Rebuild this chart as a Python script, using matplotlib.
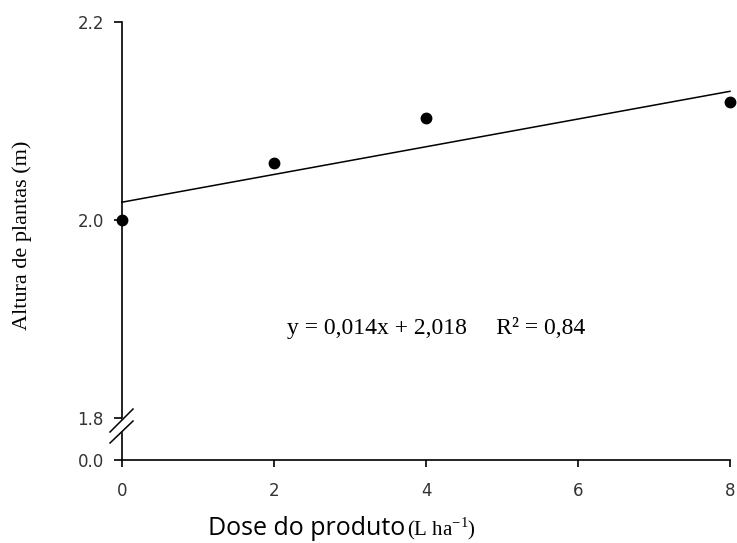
import numpy as np
import matplotlib
matplotlib.use("Agg")
import matplotlib.pyplot as plt
from matplotlib.ticker import FixedLocator, FormatStrFormatter, NullLocator

# data
dose = [0, 2, 4, 8]
altura = [2.000, 2.058, 2.103, 2.119]
slope, intercept = 0.014, 2.018
x_ticks = [0, 2, 4, 6, 8]
y_ticks = [0.0, 1.8, 2.0, 2.2]

plt.rcParams['mathtext.fontset'] = 'custom'
plt.rcParams['mathtext.rm'] = 'Liberation Serif'

fig = plt.figure(figsize=(7.37, 5.43), dpi=100)
ax = fig.add_axes([122 / 737, 83 / 543, 608 / 737, 438 / 543])

# broken y axis: squeeze 0 - 1.8 into a short stretch
brk = 1.8
k = 0.0424 / 1.8


def fwd(y):
    y = np.asarray(y, dtype=float)
    return np.where(y >= brk, y, brk - (brk - y) * k)


def inv(z):
    z = np.asarray(z, dtype=float)
    return np.where(z >= brk, z, brk - (brk - z) / k)


ax.set_yscale('function', functions=(fwd, inv))
ax.set_ylim(0, 2.2)
ax.set_xlim(0, 8)

# regression line
xl = np.array([0, 8])
ax.plot(xl, slope * xl + intercept, color='black', lw=1.1, clip_on=False)
ax.plot(dose, altura, 'o', color='black', ms=7.5, clip_on=False, zorder=5)

ax.yaxis.set_major_locator(FixedLocator(y_ticks))
ax.yaxis.set_minor_locator(NullLocator())
ax.yaxis.set_major_formatter(FormatStrFormatter('%.1f'))
ax.set_xticks(x_ticks)

for s in ['top', 'right']:
    ax.spines[s].set_visible(False)
for s in ['left', 'bottom']:
    ax.spines[s].set_linewidth(1.2)

ax.tick_params(axis='y', direction='out', length=6, width=1.2, pad=7,
               labelsize=12, labelcolor='#333333')
ax.tick_params(axis='x', direction='out', length=5, width=1.2, pad=11,
               labelsize=12, labelcolor='#333333')

# break marks on the y axis
tr = ax.transAxes
ax.fill([-0.0197, 0.0181, 0.0181, -0.0197], [0.0639, 0.1164, 0.089, 0.0388],
        color='white', transform=tr, clip_on=False, zorder=6)
for y0, y1 in [(0.0639, 0.1164), (0.0388, 0.089)]:
    ax.plot([-0.0197, 0.0181], [y0, y1], color='black', lw=1.1,
            transform=tr, clip_on=False, zorder=7)

ax.text(0.517, 0.301, 'y = 0,014x + 2,018     R² = 0,84', transform=tr,
        ha='center', va='center', fontsize=17, family='Liberation Serif')

fig.text(22 / 737, 1 - 235 / 543, 'Altura de plantas (m)', rotation=90,
         ha='center', va='center', fontsize=16, family='Liberation Serif')

fig.text(405 / 737, 8 / 543, 'Dose do produto', ha='right', va='baseline',
         fontsize=18, family='Open Sans')
fig.text(407 / 737, 8 / 543, r'(L ha$^{\mathrm{-1}}$)', ha='left', va='baseline',
         fontsize=15, family='Liberation Serif')

fig.savefig('out.png', dpi=100)
